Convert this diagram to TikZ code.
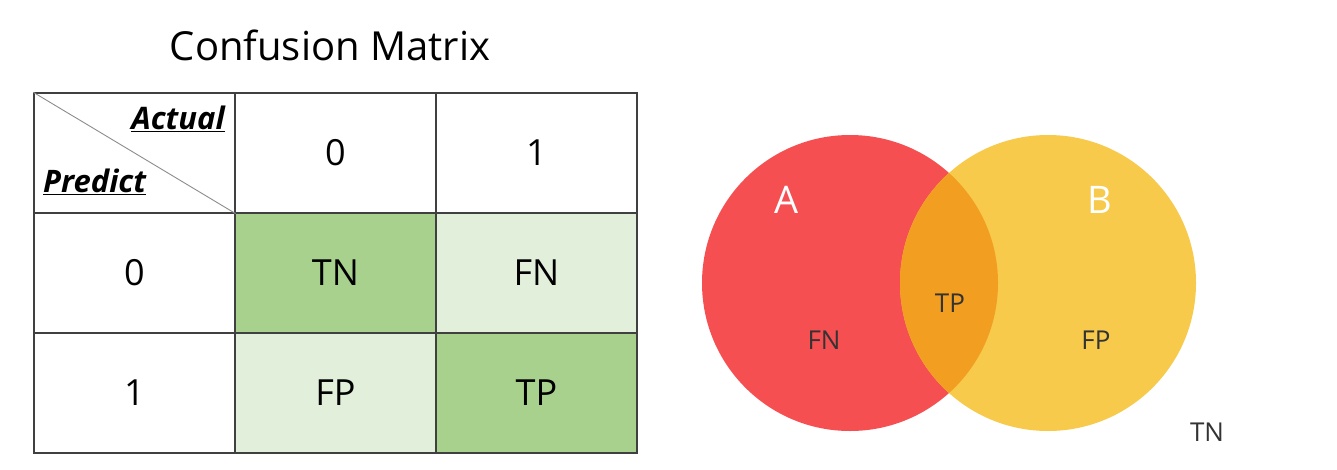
\documentclass[tikz,border=0pt]{standalone}
\usepackage{fontspec}
\setmainfont{Open Sans}
\usetikzlibrary{matrix,positioning}
\definecolor{cellgreen}{HTML}{A9D18E}
\definecolor{celllight}{HTML}{E2EFDA}
\definecolor{setred}{HTML}{F54F52}
\definecolor{setyellow}{HTML}{F7CA4C}
\definecolor{setboth}{HTML}{F29E20}
\definecolor{labelgray}{HTML}{333333}

\begin{document}
\begin{tikzpicture}[x=1pt,y=-1pt,
			every node/.style={inner sep=0pt},
			cell/.style={draw=black!75,line width=1.4pt,anchor=center,minimum width=201pt,minimum height=120pt,font=\fontsize{36}{40}\selectfont},
			corner/.style={font=\fontsize{31}{34}\selectfont\bfseries\itshape},
			setlabel/.style={text=labelgray,font=\fontsize{26}{29}\selectfont}]
			\useasboundingbox (0,0) rectangle (1337,469);
			\node (title) at (330,45) {\fontsize{40}{46}\selectfont Confusion Matrix};
			\matrix (m) [matrix of nodes, nodes in empty cells,
			nodes={cell}, column sep=-1.4pt, row sep=-1.4pt, anchor=north west] at (33,92)
			{
				  & 0 & 1 \\
				0 & |[fill=cellgreen]| TN & |[fill=celllight]| FN \\
				1 & |[fill=celllight]| FP & |[fill=cellgreen]| TP \\
			};
			
			\draw[black!45,line width=0.9pt] (m-1-1.north west) -- (m-1-1.south east);
			\node[corner,anchor=base east] (actual) at (225,129) {\underline{Actual}};
			\node[corner,anchor=base west] (predict) at (43,192) {\underline{Predict}};
			
			% venn diagram
			\node[circle,fill=setred,minimum size=296pt] (setA) at (850,283) {};
			\node[circle,fill=setyellow,minimum size=296pt] (setB) at (1048,283) {};
			\begin{scope}
				\clip (setA.center) circle (148pt);
				\fill[setboth] (setB.center) circle (148pt);
			\end{scope}
			\node[text=white,font=\fontsize{38}{42}\selectfont] (labA) at (787,200) {A};
			\node[text=white,font=\fontsize{38}{42}\selectfont] (labB) at (1100,200) {B};
			\node[setlabel] (tp) at (950,303) {TP};
			\node[setlabel] (fn) at (824,340) {FN};
			\node[setlabel] (fp) at (1096,340) {FP};
			\node[setlabel] (tn) at (1207,432) {TN};
\end{tikzpicture}
\end{document}
